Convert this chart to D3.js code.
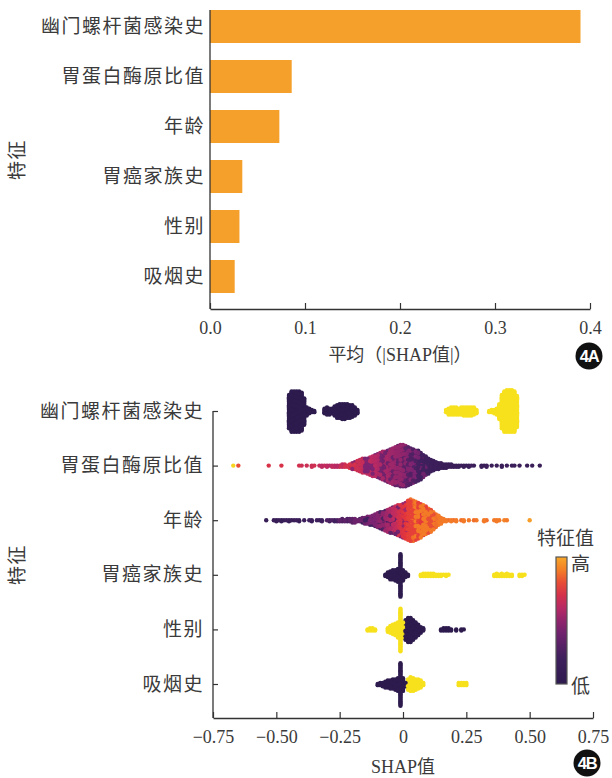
<!DOCTYPE html>
<html>
<head>
<meta charset="utf-8">
<script src="https://cdn.jsdelivr.net/npm/d3@7"></script>
<style>
  html, body { margin: 0; padding: 0; background: #fff; }
  svg { display: block; }
  .cjk { font-family: "Noto Sans CJK SC", "Liberation Serif", sans-serif; }
  .num { font-family: "Liberation Serif", "Noto Sans CJK SC", serif; }
</style>
</head>
<body>
<svg id="chart" width="612" height="778"></svg>
<script>
// ---------- data ----------
const features = ["幽门螺杆菌感染史", "胃蛋白酶原比值", "年龄", "胃癌家族史", "性别", "吸烟史"];
const meanAbsShap = [0.390, 0.086, 0.073, 0.034, 0.031, 0.026];
const barTicks = [0, 0.1, 0.2, 0.3, 0.4];
const barTickLabels = ["0.0", "0.1", "0.2", "0.3", "0.4"];
const shapTicks = [-0.75, -0.5, -0.25, 0, 0.25, 0.5, 0.75];
const shapTickLabels = ["−0.75", "−0.50", "−0.25", "0", "0.25", "0.50", "0.75"];

// beeswarm bins: [SHAP value, number of samples, feature value (0 = low, 1 = high)]
const hpBins = [
  [-0.45, 30, 0], [-0.44, 36, 0], [-0.43, 36, 0], [-0.42, 36, 0], [-0.41, 36, 0], [-0.40, 34, 0],
  [-0.39, 24, 0], [-0.38, 8, 0], [-0.37, 5, 0], [-0.36, 3, 0], [-0.35, 2, 0],
  [-0.31, 5, 0], [-0.30, 7, 0], [-0.29, 6, 0], [-0.28, 5, 0], [-0.27, 9, 0], [-0.26, 12, 0],
  [-0.25, 13, 0], [-0.24, 14, 0], [-0.23, 14, 0], [-0.22, 13, 0], [-0.21, 12, 0], [-0.20, 11, 0],
  [-0.19, 8, 0], [-0.18, 4, 0],
  [0.17, 3, 1], [0.18, 6, 1], [0.19, 7, 1], [0.20, 7, 1], [0.21, 7, 1], [0.22, 6, 1], [0.23, 7, 1],
  [0.24, 8, 1], [0.25, 8, 1], [0.26, 8, 1], [0.27, 8, 1], [0.28, 7, 1], [0.29, 4, 1],
  [0.34, 2, 1], [0.35, 3, 1], [0.36, 4, 1], [0.37, 6, 1], [0.38, 14, 1], [0.39, 30, 1],
  [0.40, 36, 1], [0.41, 37, 1], [0.42, 37, 1], [0.43, 37, 1], [0.44, 36, 1], [0.45, 28, 1]
];

const pepBins = [
  [-0.67, 1, 0.98], [-0.65, 1, 0.72], [-0.53, 1, 0.64], [-0.48, 1, 0.64],
  [-0.41, 1, 0.62], [-0.40, 1, 0.6], [-0.38, 1, 0.6], [-0.36, 2, 0.6], [-0.35, 1, 0.62],
  [-0.33, 1, 0.58], [-0.32, 2, 0.56], [-0.31, 1, 0.6], [-0.30, 2, 0.56], [-0.29, 1, 0.55],
  [-0.28, 2, 0.58], [-0.27, 2, 0.55], [-0.26, 2, 0.54], [-0.25, 2, 0.6], [-0.24, 3, 0.56], [-0.23, 3, 0.62],
  [-0.22, 2, 0.62],
  [-0.21, 3, 0.64], [-0.21, 1, 0.45],
  [-0.20, 4, 0.62], [-0.20, 2, 0.45],
  [-0.19, 5, 0.64], [-0.19, 2, 0.42],
  [-0.18, 6, 0.6], [-0.18, 3, 0.45],
  [-0.17, 7, 0.6], [-0.17, 4, 0.42],
  [-0.16, 8, 0.58], [-0.16, 5, 0.42],
  [-0.15, 8, 0.58], [-0.15, 5, 0.4],
  [-0.14, 8, 0.56], [-0.14, 6, 0.4],
  [-0.13, 9, 0.56], [-0.13, 7, 0.4],
  [-0.12, 10, 0.55], [-0.12, 8, 0.4],
  [-0.11, 10, 0.54], [-0.11, 9, 0.38],
  [-0.10, 11, 0.52], [-0.10, 10, 0.38],
  [-0.09, 12, 0.52], [-0.09, 11, 0.38],
  [-0.08, 12, 0.5], [-0.08, 13, 0.36],
  [-0.07, 13, 0.5], [-0.07, 13, 0.36],
  [-0.06, 14, 0.5], [-0.06, 14, 0.35],
  [-0.05, 14, 0.48], [-0.05, 16, 0.35],
  [-0.04, 15, 0.48], [-0.04, 17, 0.34],
  [-0.03, 15, 0.47], [-0.03, 19, 0.33],
  [-0.02, 15, 0.46], [-0.02, 20, 0.32],
  [-0.01, 15, 0.46], [-0.01, 22, 0.32],
  [0.00, 14, 0.45], [0.00, 23, 0.3],
  [0.01, 12, 0.44], [0.01, 24, 0.3],
  [0.02, 12, 0.42], [0.02, 22, 0.28],
  [0.03, 10, 0.42], [0.03, 22, 0.26],
  [0.04, 9, 0.4], [0.04, 21, 0.25],
  [0.05, 8, 0.4], [0.05, 20, 0.24],
  [0.06, 7, 0.38], [0.06, 20, 0.22],
  [0.07, 6, 0.36], [0.07, 18, 0.2],
  [0.08, 5, 0.35], [0.08, 15, 0.2],
  [0.09, 4, 0.34], [0.09, 13, 0.18],
  [0.10, 3, 0.32], [0.10, 11, 0.18],
  [0.11, 11, 0.16], [0.12, 9, 0.15], [0.13, 7, 0.16], [0.14, 6, 0.14], [0.15, 5, 0.15],
  [0.16, 4, 0.12], [0.17, 4, 0.14], [0.18, 3, 0.12], [0.19, 3, 0.14], [0.20, 2, 0.12],
  [0.21, 2, 0.14], [0.22, 2, 0.12], [0.23, 1, 0.18], [0.24, 2, 0.12], [0.25, 1, 0.14],
  [0.26, 2, 0.12], [0.27, 1, 0.18], [0.28, 1, 0.12], [0.31, 2, 0.14], [0.32, 1, 0.12],
  [0.33, 2, 0.16], [0.35, 1, 0.12], [0.37, 1, 0.14], [0.39, 2, 0.12], [0.41, 1, 0.16],
  [0.43, 1, 0.12], [0.44, 1, 0.14], [0.46, 1, 0.12], [0.49, 1, 0.12], [0.51, 1, 0.14], [0.54, 1, 0.12]
];

const ageBins = [
  [-0.54, 1, 0.1], [-0.51, 1, 0.12], [-0.50, 2, 0.1], [-0.49, 1, 0.15], [-0.48, 2, 0.1],
  [-0.47, 1, 0.12], [-0.46, 1, 0.15], [-0.45, 2, 0.1], [-0.44, 1, 0.12], [-0.43, 1, 0.15],
  [-0.42, 1, 0.2], [-0.41, 2, 0.12], [-0.39, 1, 0.15], [-0.37, 1, 0.2], [-0.36, 2, 0.15],
  [-0.34, 1, 0.2], [-0.33, 1, 0.15], [-0.32, 2, 0.2], [-0.30, 1, 0.25], [-0.29, 2, 0.2],
  [-0.28, 1, 0.25], [-0.27, 2, 0.2], [-0.26, 2, 0.25], [-0.25, 2, 0.3], [-0.24, 3, 0.25],
  [-0.23, 2, 0.3], [-0.22, 3, 0.25], [-0.21, 3, 0.3], [-0.20, 4, 0.3], [-0.19, 4, 0.35],
  [-0.18, 2, 0.35],
  [-0.17, 2, 0.35], [-0.17, 1, 0.25],
  [-0.16, 3, 0.35], [-0.16, 2, 0.2],
  [-0.15, 3, 0.35], [-0.15, 3, 0.2],
  [-0.14, 4, 0.38], [-0.14, 3, 0.2],
  [-0.13, 4, 0.4], [-0.13, 4, 0.2],
  [-0.12, 5, 0.4], [-0.12, 4, 0.22],
  [-0.11, 6, 0.4], [-0.11, 5, 0.22],
  [-0.10, 7, 0.42], [-0.10, 6, 0.25],
  [-0.09, 8, 0.45], [-0.09, 7, 0.25],
  [-0.08, 8, 0.45], [-0.08, 8, 0.25],
  [-0.07, 9, 0.48], [-0.07, 9, 0.25],
  [-0.06, 10, 0.5], [-0.06, 10, 0.28],
  [-0.05, 11, 0.52], [-0.05, 11, 0.3],
  [-0.04, 12, 0.56], [-0.04, 11, 0.32],
  [-0.03, 13, 0.58], [-0.03, 12, 0.34],
  [-0.02, 15, 0.62], [-0.02, 12, 0.38],
  [-0.01, 16, 0.64], [-0.01, 12, 0.4],
  [0.00, 18, 0.66], [0.00, 12, 0.45],
  [0.01, 20, 0.68], [0.01, 12, 0.5],
  [0.02, 24, 0.7], [0.02, 11, 0.55],
  [0.03, 22, 0.7], [0.03, 15, 0.78],
  [0.04, 20, 0.7], [0.04, 16, 0.78],
  [0.05, 18, 0.7], [0.05, 16, 0.8],
  [0.06, 16, 0.7], [0.06, 16, 0.8],
  [0.07, 14, 0.68], [0.07, 16, 0.8],
  [0.08, 12, 0.7], [0.08, 15, 0.8],
  [0.09, 10, 0.7], [0.09, 15, 0.8],
  [0.10, 8, 0.72], [0.10, 14, 0.8],
  [0.11, 8, 0.72], [0.11, 12, 0.8],
  [0.12, 6, 0.72], [0.12, 10, 0.8],
  [0.13, 12, 0.78], [0.14, 9, 0.8], [0.15, 6, 0.8], [0.16, 3, 0.8],
  [0.17, 2, 0.8], [0.18, 1, 0.78], [0.19, 2, 0.8], [0.20, 1, 0.78], [0.21, 2, 0.8],
  [0.23, 1, 0.78], [0.24, 2, 0.8], [0.26, 1, 0.8], [0.28, 1, 0.78], [0.29, 1, 0.8],
  [0.32, 2, 0.8], [0.33, 1, 0.78], [0.36, 1, 0.8], [0.37, 2, 0.8], [0.38, 1, 0.8],
  [0.40, 1, 0.82], [0.41, 1, 0.8], [0.50, 1, 0.88]
];

const famBins = [
  [-0.07, 2, 0], [-0.06, 5, 0], [-0.05, 8, 0], [-0.04, 9, 0], [-0.03, 10, 0], [-0.02, 12, 0],
  [-0.01, 38, 0], [0.00, 10, 0], [0.01, 5, 0], [0.02, 2, 0],
  [0.07, 2, 1], [0.08, 3, 1], [0.09, 3, 1], [0.10, 3, 1], [0.11, 3, 1], [0.12, 3, 1],
  [0.13, 2, 1], [0.14, 2, 1], [0.15, 2, 1], [0.16, 1, 1], [0.17, 2, 1], [0.18, 1, 1],
  [0.36, 2, 1], [0.37, 3, 1], [0.38, 2, 1], [0.39, 3, 1], [0.40, 2, 1], [0.41, 3, 1],
  [0.42, 2, 1], [0.43, 2, 1], [0.46, 2, 1], [0.47, 2, 1], [0.48, 1, 1]
];

const sexBins = [
  [-0.14, 2, 1], [-0.13, 3, 1], [-0.12, 3, 1], [-0.11, 2, 1],
  [-0.06, 4, 1], [-0.05, 7, 1], [-0.04, 9, 1], [-0.03, 11, 1], [-0.02, 14, 1], [-0.01, 38, 1], [0.00, 14, 1],
  [0.01, 18, 0], [0.02, 22, 0], [0.03, 22, 0], [0.04, 18, 0], [0.05, 14, 0], [0.06, 10, 0],
  [0.07, 6, 0], [0.08, 3, 0],
  [0.15, 2, 0], [0.16, 3, 0], [0.17, 3, 0], [0.18, 3, 0], [0.19, 2, 0], [0.21, 2, 0],
  [0.23, 2, 0], [0.24, 1, 0]
];

const smokeBins = [
  [-0.10, 2, 0], [-0.09, 3, 0], [-0.08, 4, 0], [-0.07, 6, 0], [-0.06, 7, 0], [-0.05, 8, 0],
  [-0.04, 9, 0], [-0.03, 10, 0], [-0.02, 12, 0], [-0.01, 38, 0], [0.00, 12, 0], [0.01, 4, 0],
  [0.02, 10, 1], [0.03, 13, 1], [0.04, 12, 1], [0.05, 10, 1], [0.06, 9, 1], [0.07, 7, 1], [0.08, 3, 1],
  [0.22, 3, 1], [0.23, 3, 1], [0.24, 3, 1], [0.25, 3, 1]
];

const swarmBins = [hpBins, pepBins, ageBins, famBins, sexBins, smokeBins];

// ---------- styling ----------
const barColor = "#f5a02b";
const inkColor = "#333";
const textColor = "#3a3a3a";
const featureColor = d3.scaleLinear()
  .domain([0, 0.2, 0.4, 0.55, 0.68, 0.8, 0.9, 1])
  .range(["#2e1b4e", "#40205e", "#7c2371", "#bb2a63", "#e3363c", "#f37a27", "#f7a72a", "#f7e11d"])
  .interpolate(d3.interpolateRgb);

const svg = d3.select("#chart");

function badge(cx, cy, label) {
  const g = svg.append("g").attr("transform", `translate(${cx},${cy})`);
  g.append("circle").attr("r", 13.5).attr("fill", "#111");
  g.append("text").attr("text-anchor", "middle").attr("dy", "0.36em")
    .attr("fill", "#fff").attr("font-family", "Liberation Sans, Arial, sans-serif")
    .attr("font-weight", "bold").attr("font-size", 16.5).attr("letter-spacing", -1.2)
    .text(label);
}

// ---------- panel A: mean |SHAP| bars ----------
const xBar = d3.scaleLinear().domain([0, 0.4]).range([210, 590]);
const yBar = d3.scaleBand().domain(features).range([10, 293]).paddingInner(0.34).paddingOuter(0);
const axisYA = 309;

svg.append("g").selectAll("rect").data(features).join("rect")
  .attr("x", xBar(0))
  .attr("y", d => yBar(d))
  .attr("width", (d, i) => xBar(meanAbsShap[i]) - xBar(0))
  .attr("height", yBar.bandwidth())
  .attr("fill", barColor);

const axA = svg.append("g").attr("transform", `translate(0,${axisYA})`)
  .call(d3.axisBottom(xBar).tickValues(barTicks).tickFormat((d, i) => barTickLabels[i])
    .tickSizeInner(-6).tickSizeOuter(0).tickPadding(10));
axA.select(".domain").attr("stroke", inkColor).attr("stroke-width", 1.3);
axA.selectAll(".tick line").attr("stroke", inkColor).attr("stroke-width", 1.2);
axA.selectAll(".tick text").attr("class", "num").attr("font-size", 18).attr("fill", textColor)
  .attr("y", 12).attr("dy", "0.71em");

svg.append("line").attr("x1", xBar(0)).attr("x2", xBar(0))
  .attr("y1", yBar.range()[0]).attr("y2", axisYA)
  .attr("stroke", inkColor).attr("stroke-width", 1.3);

svg.append("g").selectAll("text").data(features).join("text")
  .attr("class", "cjk")
  .attr("x", 205)
  .attr("y", d => yBar(d) + yBar.bandwidth() / 2)
  .attr("dy", "0.36em")
  .attr("text-anchor", "end")
  .attr("font-size", 19).attr("letter-spacing", 1.5).attr("fill", textColor)
  .text(d => d);

svg.append("text").attr("class", "cjk")
  .attr("transform", `translate(24,${(yBar.range()[0] + axisYA) / 2}) rotate(-90)`)
  .attr("text-anchor", "middle").attr("font-size", 19).attr("letter-spacing", 1.5)
  .attr("fill", textColor).text("特征");

svg.append("text").attr("class", "num")
  .attr("x", (xBar.range()[0] + xBar.range()[1]) / 2).attr("y", 355).attr("dy", "0.36em")
  .attr("text-anchor", "middle").attr("font-size", 18).attr("fill", textColor)
  .text("平均（|SHAP值|）");

badge(589, 356, "4A");

// ---------- panel B: SHAP beeswarm ----------
const xShap = d3.scaleLinear().domain([-0.75, 0.75]).range([213, 593]);
const yShap = d3.scalePoint().domain(features).range([411, 684]);
const axisYB = 718;
const dotR = 2.2;
const stackStep = 1.15;

// Stack the samples of each SHAP bin symmetrically around the feature row,
// mixing the colour groups of a bin so they interleave like a shuffled swarm.
function swarmPoints(bins, feature) {
  const groups = d3.groups(bins, d => d[0]);
  const pts = [];
  const gcd = (a, b) => b ? gcd(b, a % b) : a;
  groups.forEach(([shap, entries], gi) => {
    const vals = [];
    entries.forEach(e => { for (let k = 0; k < e[1]; k++) vals.push(e[2]); });
    const n = vals.length;
    let stride = Math.max(1, Math.round(n * 0.618));
    while (n > 1 && gcd(stride, n) !== 1) stride++;
    const phase = Math.floor(((gi * 0.7548776662) % 1) * n);
    for (let k = 0; k < n; k++) {
      const v = vals[(k * stride + phase) % n];
      const level = Math.ceil(k / 2) * (k % 2 ? 1 : -1);
      pts.push({ shap, value: v, feature, offset: level * stackStep });
    }
  });
  // paint order scrambled so neighbouring columns overlap evenly
  pts.forEach((p, i) => { p.order = (i * 0.6180339887) % 1; });
  pts.sort((a, b) => a.order - b.order);
  return pts;
}

const swarm = svg.append("g");
features.forEach((f, i) => {
  const pts = swarmPoints(swarmBins[i], f);
  swarm.append("g").selectAll("circle").data(pts).join("circle")
    .attr("cx", d => xShap(d.shap))
    .attr("cy", d => yShap(d.feature) + d.offset)
    .attr("r", dotR)
    .attr("fill", d => featureColor(d.value));
});

const axB = svg.append("g").attr("transform", `translate(0,${axisYB})`)
  .call(d3.axisBottom(xShap).tickValues(shapTicks).tickFormat((d, i) => shapTickLabels[i])
    .tickSizeInner(-6).tickSizeOuter(0).tickPadding(10));
axB.select(".domain").attr("stroke", inkColor).attr("stroke-width", 1.3);
axB.selectAll(".tick line").attr("stroke", inkColor).attr("stroke-width", 1.2);
axB.selectAll(".tick text").attr("class", "num").attr("font-size", 18).attr("fill", textColor)
  .attr("y", 12).attr("dy", "0.71em");

const ayB = svg.append("g").attr("transform", `translate(${xShap.range()[0]},0)`)
  .call(d3.axisLeft(yShap).tickSizeInner(-5).tickSizeOuter(0).tickPadding(9));
ayB.select(".domain").remove();
ayB.selectAll(".tick line").attr("stroke", inkColor).attr("stroke-width", 1.2);
ayB.selectAll(".tick text").attr("class", "cjk").attr("font-size", 19).attr("letter-spacing", 1.5)
  .attr("fill", textColor).attr("x", -9);
svg.append("line").attr("x1", xShap.range()[0]).attr("x2", xShap.range()[0])
  .attr("y1", yShap.range()[0]).attr("y2", axisYB)
  .attr("stroke", inkColor).attr("stroke-width", 1.3);

svg.append("text").attr("class", "cjk")
  .attr("transform", `translate(24,${(yShap.range()[0] + axisYB) / 2}) rotate(-90)`)
  .attr("text-anchor", "middle").attr("font-size", 19).attr("letter-spacing", 1.5)
  .attr("fill", textColor).text("特征");

svg.append("text").attr("class", "num")
  .attr("x", (xShap.range()[0] + xShap.range()[1]) / 2).attr("y", 767).attr("dy", "0.36em")
  .attr("text-anchor", "middle").attr("font-size", 18).attr("fill", textColor)
  .text("SHAP值");

// colour bar for the feature value
const cbX = 556, cbW = 11, cbTop = 557, cbBottom = 684;
const grad = svg.append("defs").append("linearGradient")
  .attr("id", "featGrad").attr("x1", 0).attr("x2", 0).attr("y1", 1).attr("y2", 0);
d3.range(0, 1.0001, 0.1).forEach(t => {
  grad.append("stop").attr("offset", t).attr("stop-color", featureColor(t * 0.9));
});
svg.append("rect").attr("x", cbX).attr("y", cbTop).attr("width", cbW).attr("height", cbBottom - cbTop)
  .attr("fill", "url(#featGrad)").attr("stroke", "#555").attr("stroke-width", 1.2);
svg.append("text").attr("class", "cjk").attr("x", cbX + cbW / 2 + 4).attr("y", 538).attr("dy", "0.36em")
  .attr("text-anchor", "middle").attr("font-size", 19).attr("fill", textColor).text("特征值");
svg.append("text").attr("class", "cjk").attr("x", cbX + cbW + 4).attr("y", 564).attr("dy", "0.36em")
  .attr("font-size", 19).attr("fill", textColor).text("高");
svg.append("text").attr("class", "cjk").attr("x", cbX + cbW + 4).attr("y", 686).attr("dy", "0.36em")
  .attr("font-size", 19).attr("fill", textColor).text("低");

badge(587, 763, "4B");
</script>
</body>
</html>
